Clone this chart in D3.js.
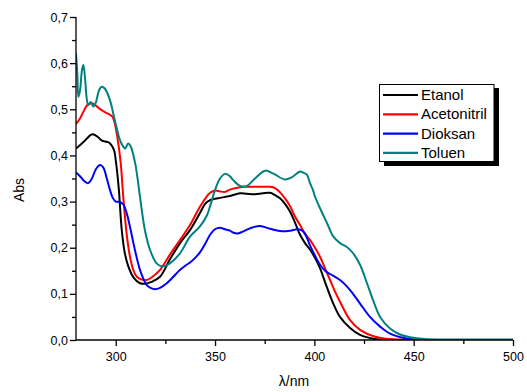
<!DOCTYPE html>
<html><head><meta charset="utf-8">
<script src="https://cdn.jsdelivr.net/npm/d3@7"></script>
<style>body{margin:0;background:#fff}svg{display:block}text{font-family:"Liberation Sans",Arial,sans-serif;fill:#000}</style>
</head><body><svg id="c" width="527" height="392"></svg>
<script>
const seriesNames = ["Etanol","Acetonitril","Dioksan","Toluen"];
const seriesColors = ["#000000","#ff0000","#0000ff","#008080"];
const xTicks = [300,350,400,450,500];
const yTicks = [0,0.1,0.2,0.3,0.4,0.5,0.6,0.7];

const etanolX = [280,284,288.2,291,293,296.6,299.1,300,301.5,303,304.5,306.3,309,312.2,314.7,318,322.3,327.3,332.4,337.4,342.4,345,347.5,350,352.5,357.5,362.6,366,370.1,374,377.7,380.2,382.7,385.2,387.8,390.3,392.8,395.3,397.8,400.3,402.9,405.4,409.4,412.9,418,423,430.6,440,500];
const etanolY = [0.415,0.43,0.446,0.44,0.432,0.428,0.412,0.39,0.33,0.24,0.19,0.16,0.135,0.123,0.122,0.126,0.137,0.175,0.21,0.238,0.275,0.295,0.303,0.306,0.308,0.312,0.318,0.317,0.316,0.318,0.319,0.314,0.307,0.295,0.278,0.254,0.228,0.21,0.196,0.178,0.155,0.125,0.08,0.05,0.026,0.011,0.002,0.0,0.0];

const acetoX = [280,282,284,285.7,288,290,291.6,293.7,295.8,298.3,299.5,300.8,302.5,303.8,305.5,307.2,309,310.6,313,315.6,318.5,322.3,327.3,332.4,337.4,342.4,346,347.5,350,352.5,355,357.5,360,365,370,375.2,377.7,380.2,382.7,385.2,387.8,390.3,392.8,395.3,397.8,400.3,402.9,405.4,407.9,410.4,412.9,418,423,430.6,438,450,500];
const acetoY = [0.468,0.48,0.497,0.509,0.513,0.508,0.502,0.496,0.491,0.484,0.47,0.44,0.384,0.31,0.23,0.18,0.15,0.137,0.131,0.13,0.137,0.152,0.185,0.217,0.249,0.289,0.312,0.319,0.324,0.322,0.321,0.326,0.329,0.332,0.332,0.332,0.332,0.329,0.32,0.307,0.29,0.267,0.249,0.23,0.217,0.2,0.18,0.155,0.13,0.105,0.083,0.043,0.022,0.007,0.002,0,0];

const dioksanX = [280,282,284,286,288,290,292.1,293.7,295.5,297.1,298.5,300,302,303.8,305.5,307.2,308.9,310.6,312.2,314,315.6,317.5,319.8,322.3,325.7,329,332.4,335,337.4,340,342.4,345,347.5,350,352.5,355,357.5,359,361.6,364,367.6,372.6,377.7,382.7,387.8,391.3,393.5,395.3,397.8,400.3,402.9,405.4,407.9,410.4,412.9,415.5,418,420.5,423,428,433.1,438.1,445.7,453,460,500];
const dioksanY = [0.363,0.355,0.345,0.34,0.35,0.37,0.379,0.374,0.35,0.325,0.308,0.3,0.299,0.294,0.275,0.245,0.21,0.178,0.152,0.132,0.119,0.113,0.11,0.113,0.123,0.137,0.152,0.161,0.168,0.178,0.19,0.208,0.228,0.24,0.243,0.24,0.237,0.233,0.231,0.235,0.242,0.247,0.241,0.236,0.237,0.24,0.238,0.23,0.205,0.183,0.163,0.15,0.143,0.137,0.13,0.12,0.108,0.094,0.079,0.05,0.029,0.014,0.004,0.001,0,0];

const toluenX = [280,280.7,281.2,282,283,283.7,284.5,285.5,286.2,287.4,288.7,290,291.5,292.9,294.5,297.1,298.8,300.5,302,303.8,304.7,306.3,307.5,309.7,311,312.2,314.7,317.3,320.6,323.1,325.5,327.3,332.4,337.4,342.4,346,347.5,350,352.5,355,357.5,359,362.6,366.1,370.1,375.2,379.2,385.2,388.8,392.8,394.3,396.3,397.8,399.3,400.3,402.9,406.4,409.4,412.9,416.5,419.5,423,426.5,429.5,433.1,438.1,443.1,448.2,455.7,465,500];
const toluenY = [0.621,0.575,0.527,0.54,0.585,0.596,0.57,0.52,0.509,0.516,0.506,0.515,0.54,0.549,0.545,0.52,0.49,0.459,0.435,0.419,0.415,0.426,0.42,0.385,0.35,0.311,0.238,0.195,0.166,0.16,0.162,0.166,0.188,0.224,0.246,0.271,0.29,0.325,0.35,0.36,0.355,0.347,0.334,0.334,0.35,0.367,0.361,0.348,0.353,0.365,0.363,0.358,0.34,0.325,0.311,0.285,0.253,0.225,0.21,0.201,0.188,0.163,0.123,0.087,0.05,0.025,0.012,0.006,0.002,0.001,0.001];

const seriesX = [etanolX, acetoX, dioksanX, toluenX];
const seriesY = [etanolY, acetoY, dioksanY, toluenY];

const svg = d3.select("#c");
const L = 76, R = 513, T = 17, B = 340;
const x = d3.scaleLinear().domain([280,500]).range([L,R]);
const y = d3.scaleLinear().domain([0,0.7]).range([B,T]);
const fmt = d => d3.format(".1f")(d).replace(".", ",");

svg.append("defs").append("clipPath").attr("id","clip")
  .append("rect").attr("x",L).attr("y",T-5).attr("width",R-L).attr("height",B-T+5);

const line = d3.line().x(d=>x(d[0])).y(d=>y(d[1])).curve(d3.curveCatmullRom.alpha(0.5));
const g = svg.append("g").attr("clip-path","url(#clip)");
seriesNames.forEach((n,i)=>{
  const pts = seriesX[i].map((v,j)=>[v, seriesY[i][j]]);
  g.append("path").datum(pts).attr("d",line).attr("fill","none")
   .attr("stroke",seriesColors[i]).attr("stroke-width",2).attr("stroke-linejoin","round");
});

// axes
const xAxis = svg.append("g").attr("transform",`translate(0,${B})`)
  .call(d3.axisBottom(x).tickValues(d3.range(300,501,25)).tickSize(4).tickFormat(d => xTicks.includes(d) ? d : ""));
xAxis.selectAll(".tick line").attr("y2", d => xTicks.includes(d) ? 6 : 4);
xAxis.select(".domain").attr("d", `M${L},0H${R}`);
xAxis.selectAll("text").attr("dy",null).attr("y",21).style("font-size","12.5px").style("font-family","Liberation Sans, Arial, sans-serif");

const yAxis = svg.append("g").attr("transform",`translate(${L},0)`)
  .call(d3.axisLeft(y).tickValues(d3.range(0,0.701,0.05)).tickSize(4).tickFormat(d => {
    const r = Math.round(d*100); return r%10===0 ? fmt(d) : "";}));
yAxis.selectAll(".tick line").attr("x2", d => Math.round(d*100)%10===0 ? -6 : -4);
yAxis.select(".domain").attr("d", `M0,${B}V${T}`);
yAxis.selectAll("text").attr("x",-8).style("font-size","12.5px").style("font-family","Liberation Sans, Arial, sans-serif");
svg.selectAll(".domain, .tick line").attr("stroke","#000").attr("stroke-width",1.3);

svg.append("text").attr("transform","translate(24,190) rotate(-90)").attr("text-anchor","middle")
  .style("font-size","14px").text("Abs");
svg.append("text").attr("x",294).attr("y",386).attr("text-anchor","middle")
  .style("font-size","14px").text("λ/nm");

// legend
const lg = svg.append("g");
lg.append("rect").attr("x",384).attr("y",88).attr("width",115).attr("height",78).attr("fill","#000");
lg.append("rect").attr("x",379.5).attr("y",84.5).attr("width",114.5).attr("height",77).attr("fill","#fff").attr("stroke","#000").attr("stroke-width",1);
seriesNames.forEach((n,i)=>{
  const yy = 95 + i*19.3;
  lg.append("line").attr("x1",383).attr("x2",418).attr("y1",yy).attr("y2",yy).attr("stroke",seriesColors[i]).attr("stroke-width",2.2);
  lg.append("text").attr("x",421).attr("y",yy+5).style("font-size","15px").text(n);
});
</script></body></html>
